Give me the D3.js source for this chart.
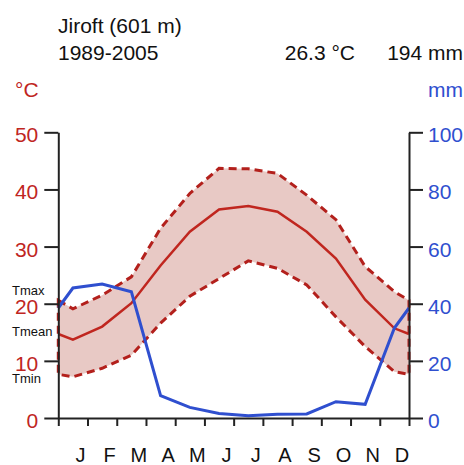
<!DOCTYPE html>
<html>
<head>
<meta charset="utf-8">
<script src="https://cdn.jsdelivr.net/npm/d3@7"></script>
<style>
  body { margin: 0; background: #fff; }
  svg { font-family: "Liberation Sans", Arial, sans-serif; }
</style>
</head>
<body>
<svg id="chart" width="464" height="465"></svg>
<script>
// monthly climate normals, Jiroft 1989-2005
const months = ['J', 'F', 'M', 'A', 'M', 'J', 'J', 'A', 'S', 'O', 'N', 'D'];
const tMean = [13.7, 16.0, 20.1, 26.7, 32.6, 36.5, 37.1, 36.1, 32.6, 27.9, 20.7, 15.7];
const tMax = [19.1, 21.5, 24.7, 33.2, 39.3, 43.7, 43.6, 42.8, 39.0, 34.7, 26.5, 22.1];
const tMin = [7.2, 8.7, 11.0, 16.6, 21.3, 24.4, 27.5, 26.2, 23.3, 17.7, 12.5, 8.1];
const prec = [45.5, 46.9, 44.2, 7.8, 3.7, 1.6, 0.8, 1.3, 1.4, 5.7, 4.8, 31.5];
const tempTicks = [0, 10, 20, 30, 40, 50];
const precTicks = [0, 20, 40, 60, 80, 100];

const red = '#c0261f', darkRed = '#b3201c', blue = '#2f4fcf';

let svg = d3.select('#chart');

let x = d3.scaleLinear().domain([0, 12]).range([58.3, 409]);
let yT = d3.scaleLinear().domain([0, 50]).range([418, 132.3]);
let yP = d3.scaleLinear().domain([0, 100]).range([418, 132.3]);

// series points at month centres, closed at both edges with the Dec/Jan mean
function pts(vals) {
  let edge = d3.mean([vals[0], vals[11]]);
  return [[0, edge]].concat(vals.map((v, i) => [i + 0.5, v]), [[12, edge]]);
}

let lineT = d3.line().x(d => x(d[0])).y(d => yT(d[1]));
let lineP = d3.line().x(d => x(d[0])).y(d => yP(d[1]));

// band between Tmin and Tmax, dashed border
let band = pts(tMax).concat(pts(tMin).reverse());
svg.append('path')
  .attr('d', lineT(band) + 'Z')
  .attr('fill', '#e8c9c5')
  .attr('stroke', darkRed)
  .attr('stroke-width', 3)
  .attr('stroke-dasharray', '8,5');

svg.append('path')
  .attr('d', lineT(pts(tMean)))
  .attr('fill', 'none')
  .attr('stroke', red)
  .attr('stroke-width', 2.5);

svg.append('path')
  .attr('d', lineP(pts(prec)))
  .attr('fill', 'none')
  .attr('stroke', blue)
  .attr('stroke-width', 3);

// axes
let leftAxis = svg.append('g')
  .attr('transform', `translate(${x(0)},0)`)
  .call(d3.axisLeft(yT).tickValues(tempTicks).tickSize(14).tickSizeOuter(0).tickPadding(6));
leftAxis.selectAll('text').attr('fill', red).attr('font-size', 21).attr('dy', '0.45em');

let rightAxis = svg.append('g')
  .attr('transform', `translate(${x(12)},0)`)
  .call(d3.axisRight(yP).tickValues(precTicks).tickSize(14).tickSizeOuter(0).tickPadding(5));
rightAxis.selectAll('text').attr('fill', blue).attr('font-size', 21).attr('dy', '0.45em');

let bottomAxis = svg.append('g')
  .attr('transform', `translate(0,${yT(0)})`)
  .call(d3.axisBottom(x).tickValues(d3.range(13)).tickSize(8).tickSizeOuter(0).tickFormat(''));

let monthAxis = svg.append('g')
  .attr('transform', `translate(0,${yT(0)})`)
  .call(d3.axisBottom(x).tickValues(d3.range(12).map(i => i + 0.5)).tickSize(0)
    .tickFormat((d, i) => months[i]).tickPadding(30));
monthAxis.select('.domain').remove();
monthAxis.selectAll('text').attr('fill', '#111').attr('font-size', 20).attr('dx', 7);

svg.selectAll('.domain, .tick line').attr('stroke', '#222').attr('stroke-width', 2);

// titles
let head = [
  { t: 'Jiroft (601 m)', x: 58, y: 33, a: 'start', c: '#111' },
  { t: '1989-2005', x: 58, y: 60, a: 'start', c: '#111' },
  { t: '26.3 °C', x: 355, y: 60, a: 'end', c: '#111' },
  { t: '194 mm', x: 463, y: 60, a: 'end', c: '#111' },
  { t: '°C', x: 15, y: 97, a: 'start', c: red },
  { t: 'mm', x: 463, y: 97, a: 'end', c: blue }
];
svg.selectAll('.head').data(head).enter().append('text')
  .attr('x', d => d.x).attr('y', d => d.y)
  .attr('text-anchor', d => d.a)
  .attr('fill', d => d.c)
  .attr('font-size', 21)
  .text(d => d.t);

let side = [['Tmax', 295], ['Tmean', 336], ['Tmin', 383]];
svg.selectAll('.side').data(side).enter().append('text')
  .attr('x', 12).attr('y', d => d[1])
  .attr('font-size', 13)
  .attr('fill', '#111')
  .text(d => d[0]);
</script>
</body>
</html>
